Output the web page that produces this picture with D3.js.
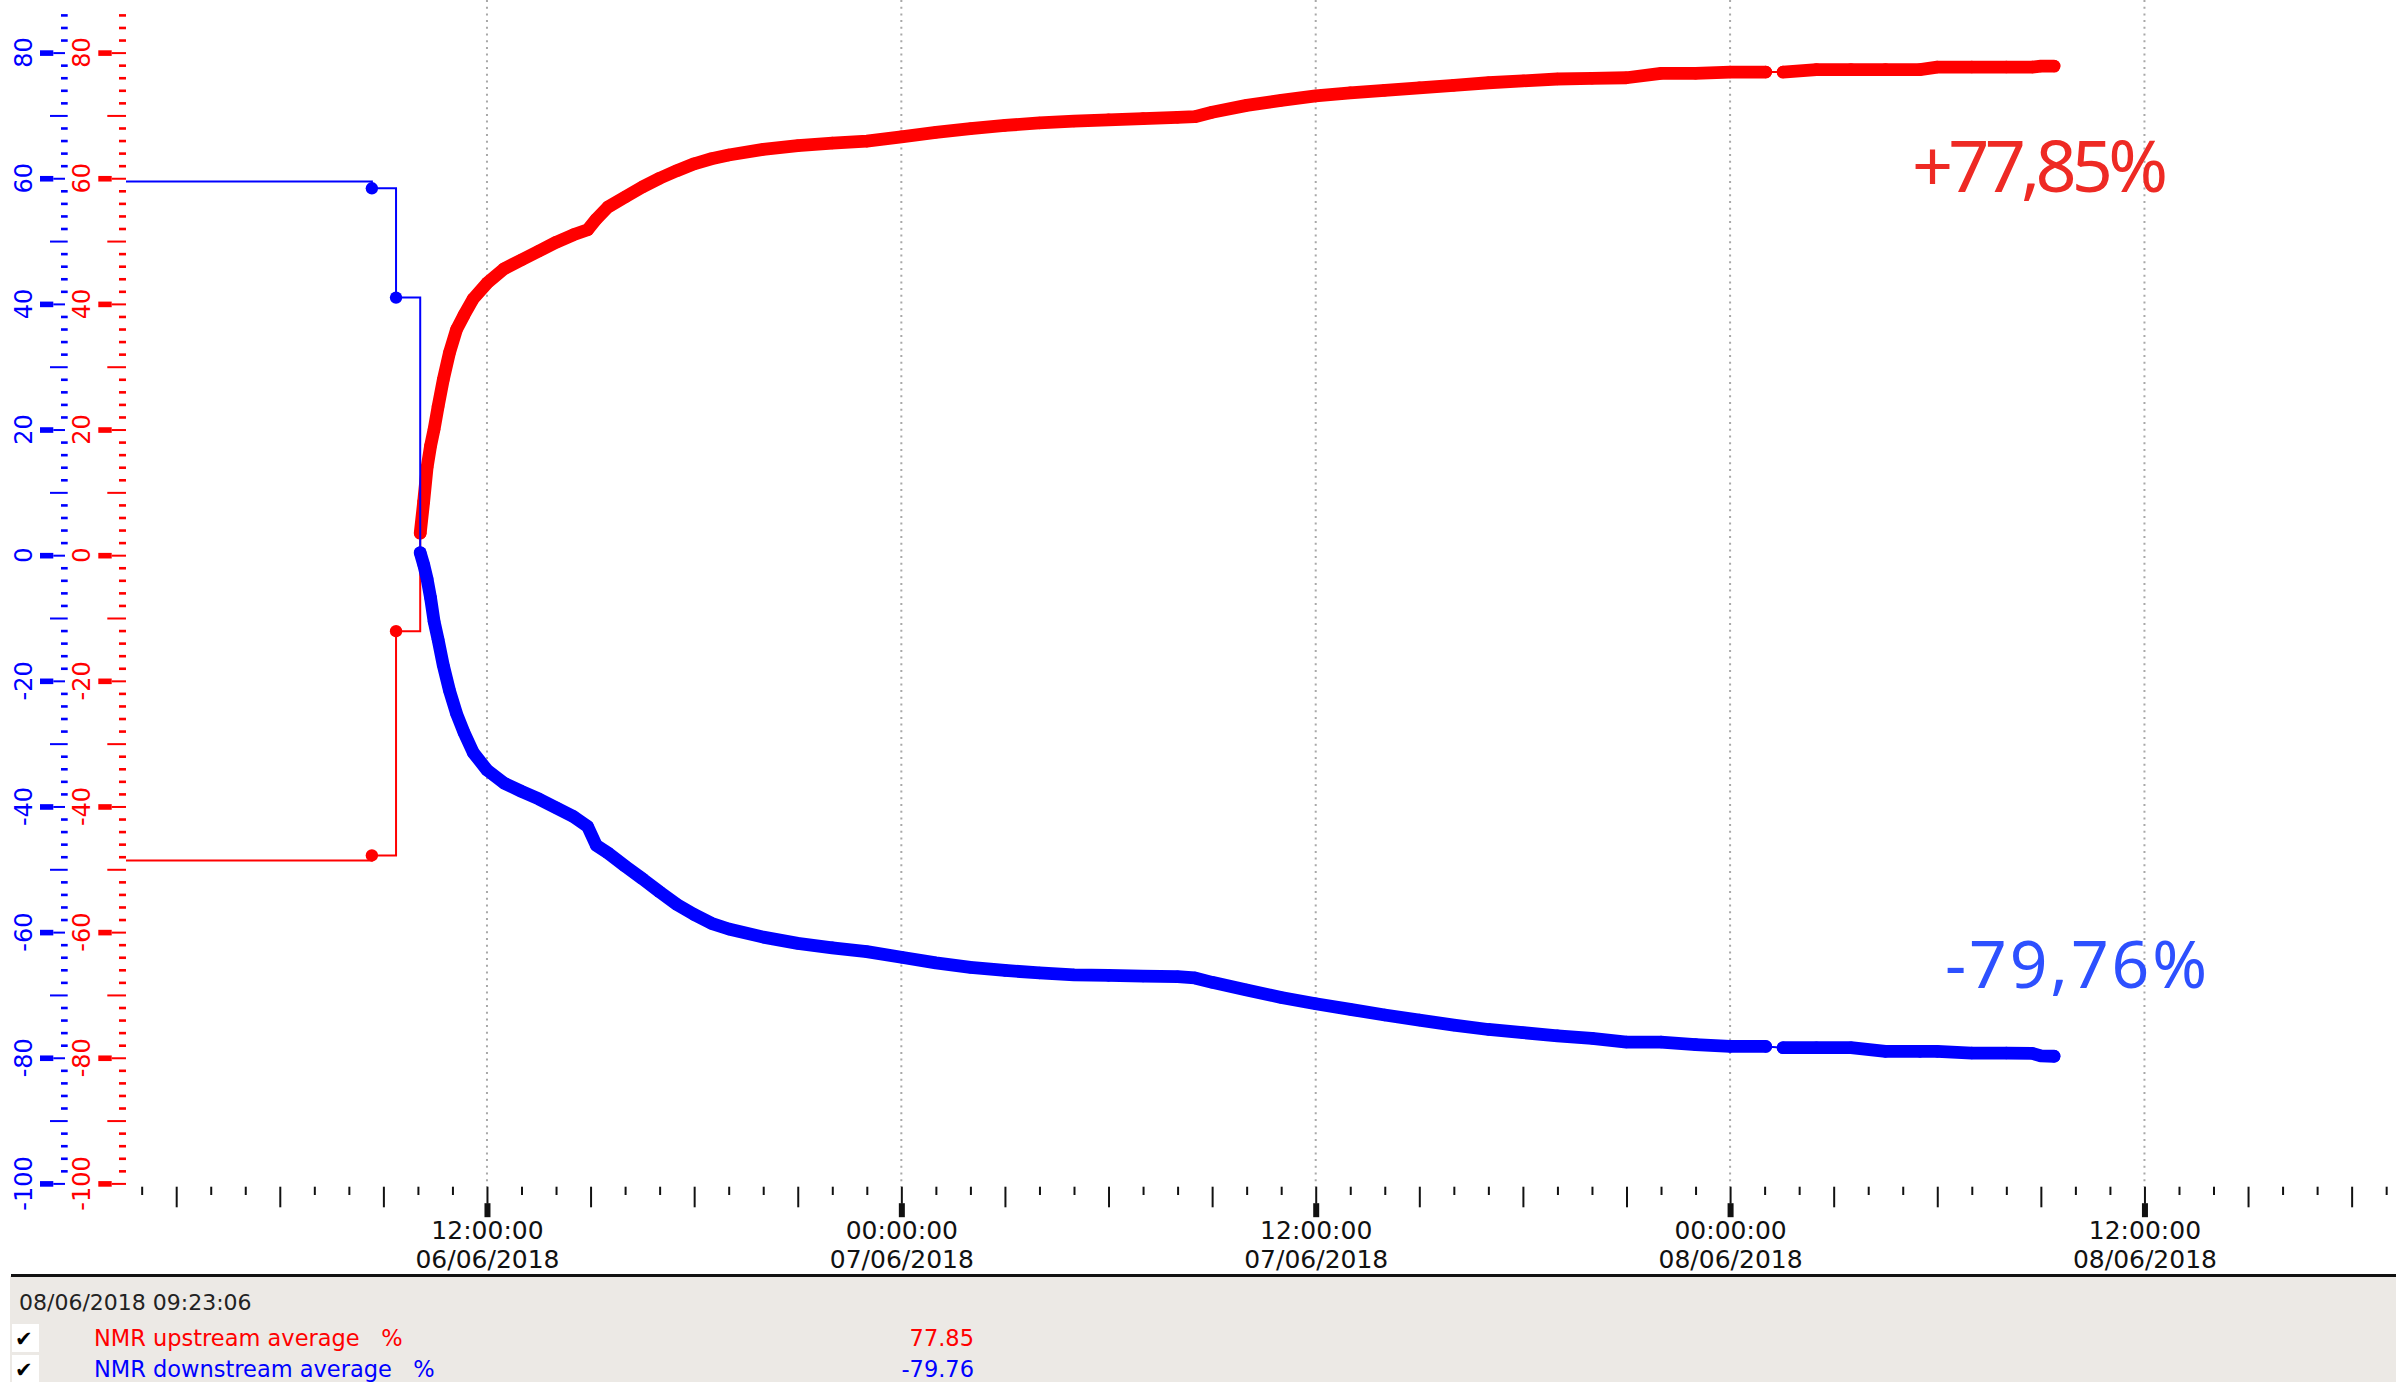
<!DOCTYPE html>
<html><head><meta charset="utf-8">
<script src="https://cdn.jsdelivr.net/npm/d3@7"></script>
<style>
html,body{margin:0;padding:0;background:#fff;}
svg{display:block;}
text{white-space:pre;}
</style></head><body>
<svg id="chart" width="2402" height="1382"></svg>
<script>
// ---------------- DATA ----------------
const times = [
"2018-06-06 01:00","2018-06-06 08:40","2018-06-06 09:22","2018-06-06 10:04","2018-06-06 10:10",
"2018-06-06 10:16","2018-06-06 10:22","2018-06-06 10:28","2018-06-06 10:35","2018-06-06 10:44",
"2018-06-06 10:55","2018-06-06 11:07","2018-06-06 11:20","2018-06-06 11:36","2018-06-06 12:00",
"2018-06-06 12:30","2018-06-06 13:00","2018-06-06 13:30","2018-06-06 14:00","2018-06-06 14:30",
"2018-06-06 14:55","2018-06-06 15:10","2018-06-06 15:30","2018-06-06 16:00","2018-06-06 16:30",
"2018-06-06 17:00","2018-06-06 17:30","2018-06-06 18:00","2018-06-06 18:30","2018-06-06 19:00",
"2018-06-06 20:00","2018-06-06 21:00","2018-06-06 22:00","2018-06-06 23:00","2018-06-07 00:00",
"2018-06-07 01:00","2018-06-07 02:00","2018-06-07 03:00","2018-06-07 04:00","2018-06-07 05:00",
"2018-06-07 06:00","2018-06-07 07:00","2018-06-07 08:00","2018-06-07 08:30","2018-06-07 09:00",
"2018-06-07 10:00","2018-06-07 11:00","2018-06-07 12:00","2018-06-07 13:00","2018-06-07 14:00",
"2018-06-07 15:00","2018-06-07 16:00","2018-06-07 17:00","2018-06-07 18:00","2018-06-07 19:00",
"2018-06-07 20:00","2018-06-07 21:00","2018-06-07 22:00","2018-06-07 23:00","2018-06-08 00:00",
"2018-06-08 01:02","2018-06-08 01:17","2018-06-08 01:32","2018-06-08 02:30","2018-06-08 03:30",
"2018-06-08 04:30","2018-06-08 05:30","2018-06-08 06:00","2018-06-08 07:00","2018-06-08 08:00",
"2018-06-08 08:45","2018-06-08 09:00","2018-06-08 09:23"
];
const upstream = [
-48.6,-47.8,-12.1,3.5,8.5,
14.0,17.4,20.0,23.6,27.9,
32.3,35.9,38.2,40.8,43.3,
45.6,47.0,48.4,49.8,51.0,
51.8,53.5,55.4,57.0,58.6,
60.0,61.2,62.3,63.1,63.7,
64.6,65.2,65.6,65.9,66.6,
67.3,67.9,68.4,68.8,69.1,
69.3,69.5,69.7,69.8,70.5,
71.6,72.4,73.1,73.6,74.0,
74.4,74.8,75.2,75.5,75.8,
75.9,76.0,76.7,76.7,76.9,
76.9,null,76.9,77.3,77.3,
77.3,77.3,77.7,77.7,77.7,
77.7,77.85,77.85
];
const downstream = [
59.5,58.4,41.0,0.4,-1.5,
-3.8,-6.8,-10.5,-13.4,-17.5,
-21.6,-25.2,-28.2,-31.4,-34.2,
-36.3,-37.6,-38.8,-40.2,-41.6,
-43.2,-46.2,-47.4,-49.5,-51.5,
-53.6,-55.6,-57.2,-58.6,-59.5,
-60.8,-61.8,-62.5,-63.1,-64.0,
-64.9,-65.6,-66.1,-66.5,-66.8,
-66.9,-67.0,-67.1,-67.3,-68.0,
-69.2,-70.4,-71.4,-72.3,-73.2,
-74.0,-74.8,-75.5,-76.0,-76.5,
-76.9,-77.5,-77.5,-77.9,-78.2,
-78.2,null,-78.4,-78.4,-78.4,
-79.0,-79.0,-79.0,-79.25,-79.25,
-79.3,-79.7,-79.76
];
const xDomain = ["2018-06-06 01:30","2018-06-08 19:15"];
const denseStart = "2018-06-06 10:04";
const yDomain = [-100, 80];
const yTickValues = d3.range(-100, 87, 2);
const yLabelValues = [-100,-80,-60,-40,-20,0,20,40,60,80];
const legendTimestamp = "08/06/2018 09:23:06";
const seriesNames = ["NMR upstream average   %","NMR downstream average   %"];
const lastValues = ["77.85","-79.76"];
const annotations = ["+77,85%","-79,76%"];

// ---------------- SETUP ----------------
const W = 2402, H = 1382;
const RED = "#ff0000", BLUE = "#0000ff";
const parse = d3.timeParse("%Y-%m-%d %H:%M");
const svg = d3.select("#chart");

const x = d3.scaleTime().domain(xDomain.map(parse)).range([124.4, 2394.8]);
const y = d3.scaleLinear().domain(yDomain).range([1183.4, 52.6]);
const axisTop = 1186.7;

const hourTicks = x.ticks(d3.timeHour.every(1));
const isMajor = d => d.getHours() % 12 === 0;
const isMedium = d => !isMajor(d) && d.getHours() % 3 === 0;

// gridlines
svg.append("g").selectAll("line").data(hourTicks.filter(isMajor)).join("line")
  .attr("x1", d => x(d)).attr("x2", d => x(d))
  .attr("y1", 0).attr("y2", axisTop)
  .attr("stroke", "#a8a8a8").attr("stroke-width", 2).attr("stroke-dasharray", "2,4.7");

// x axis
const xAxisG = svg.append("g").attr("transform", `translate(0,${axisTop})`)
  .call(d3.axisBottom(x).tickValues(hourTicks).tickSize(0).tickFormat(""));
xAxisG.select(".domain").remove();
xAxisG.selectAll(".tick line")
  .attr("stroke", "#111").attr("stroke-width", 2)
  .attr("y2", d => isMajor(d) ? 17 : isMedium(d) ? 20.6 : 8.3);
xAxisG.selectAll(".tick").filter(isMajor).append("rect")
  .attr("x", -3).attr("y", 16.5).attr("width", 6).attr("height", 14).attr("fill", "#111");
const fTime = d3.timeFormat("%H:%M:%S"), fDate = d3.timeFormat("%d/%m/%Y");
const lab = xAxisG.selectAll(".tick").filter(isMajor);
lab.append("text").attr("y", 52.5).attr("text-anchor", "middle")
  .attr("font-family", "DejaVu Sans").attr("font-size", 25).attr("fill", "#111")
  .text(d => fTime(d));
lab.append("text").attr("y", 81).attr("text-anchor", "middle")
  .attr("font-family", "DejaVu Sans").attr("font-size", 25).attr("fill", "#111")
  .text(d => fDate(d));

// y axes
function yAxis(xpos, color, cfg, labelX) {
  const g = svg.append("g").attr("transform", `translate(${xpos},0)`)
    .call(d3.axisLeft(y).tickValues(yTickValues).tickSize(0).tickFormat(""));
  g.select(".domain").remove();
  g.selectAll(".tick line").attr("stroke", color)
    .attr("x1", d => d % 20 === 0 ? -cfg.thin : 0)
    .attr("x2", d => d % 20 === 0 ? -cfg.thick0 : (d % 10 === 0 ? -cfg.medium : -cfg.minor))
    .attr("stroke-width", d => d % 20 === 0 ? 2 : (d % 10 === 0 ? 2 : 2.6));
  g.selectAll(".tick").filter(d => d % 20 === 0).append("rect")
    .attr("x", -cfg.thick1).attr("y", -2.8).attr("width", cfg.thick1 - cfg.thick0).attr("height", 5.6)
    .attr("fill", color);
  svg.append("g").selectAll("text").data(yLabelValues).join("text")
    .attr("transform", d => `translate(${labelX},${y(d)}) rotate(-90)`)
    .attr("text-anchor", "middle").attr("dominant-baseline", "central")
    .attr("font-family", "DejaVu Sans").attr("font-size", 24).attr("fill", color)
    .text(d => String(d));
}
yAxis(67.7, BLUE, {minor: 6.7, medium: 17.7, thin: 2.7, thick0: 14.4, thick1: 27.7}, 24);
yAxis(126, RED, {minor: 7, medium: 18.7, thin: 0, thick0: 14.3, thick1: 27.7}, 82);

// series
svg.append("clipPath").attr("id", "plotclip").append("rect")
  .attr("x", 126).attr("y", 0).attr("width", 2394.8 - 126).attr("height", 1190);
const plot = svg.append("g").attr("clip-path", "url(#plotclip)");
const dStart = parse(denseStart);

function drawSeries(values, color) {
  const pts = times.map((t, i) => ({t: parse(t), v: values[i]}));
  const valid = pts.filter(p => p.v !== null);
  const g = plot.append("g");
  // sparse start: step line
  g.append("path").datum(valid.filter(p => p.t <= dStart))
    .attr("d", d3.line().x(p => x(p.t)).y(p => y(p.v)).curve(d3.curveStepAfter))
    .attr("fill", "none").attr("stroke", color).attr("stroke-width", 2);
  // dense part: thin connecting line (visible across data gaps)
  g.append("path").datum(valid.filter(p => p.t >= dStart))
    .attr("d", d3.line().x(p => x(p.t)).y(p => y(p.v)))
    .attr("fill", "none").attr("stroke", color).attr("stroke-width", 2);
  // dense band of markers
  g.append("path").datum(pts.filter(p => p.t >= dStart))
    .attr("d", d3.line().defined(p => p.v !== null).x(p => x(p.t)).y(p => y(p.v)))
    .attr("fill", "none").attr("stroke", color).attr("stroke-width", 12.8)
    .attr("stroke-linecap", "round").attr("stroke-linejoin", "round");
  g.selectAll("circle").data(valid).join("circle")
    .attr("cx", p => x(p.t)).attr("cy", p => y(p.v)).attr("r", 6.2).attr("fill", color);
}
drawSeries(upstream, RED);
drawSeries(downstream, BLUE);

// handwritten annotations
svg.append("text").attr("x", 1912).attr("y", 192)
  .attr("font-family", "Noto Sans").attr("font-size", 72).attr("fill", "#ee2a24")
  .attr("textLength", 256).attr("lengthAdjust", "spacing").text(annotations[0]);
svg.append("text").attr("x", 1945).attr("y", 988)
  .attr("font-family", "Noto Sans").attr("font-size", 66).attr("fill", "#2d50ff")
  .attr("textLength", 262).attr("lengthAdjust", "spacing").text(annotations[1]);

// legend panel
svg.append("rect").attr("x", 10).attr("y", 1276).attr("width", 2386).attr("height", H - 1276)
  .attr("fill", "#ece9e5");
svg.append("line").attr("x1", 11).attr("x2", 2396).attr("y1", 1275.5).attr("y2", 1275.5)
  .attr("stroke", "#111").attr("stroke-width", 3);
svg.append("text").attr("x", 19).attr("y", 1310)
  .attr("font-family", "DejaVu Sans").attr("font-size", 22).attr("fill", "#222")
  .text(legendTimestamp);
const rowY = [1338, 1369];
const rowColor = [RED, BLUE];
seriesNames.forEach((name, i) => {
  svg.append("rect").attr("x", 12).attr("y", rowY[i] - 14).attr("width", 27).attr("height", 28).attr("fill", "#fff");
  svg.append("text").attr("x", 15).attr("y", rowY[i] + 8)
    .attr("font-family", "DejaVu Sans").attr("font-size", 21).attr("fill", "#000").text("\u2714");
  svg.append("text").attr("x", 94).attr("y", rowY[i] + 8)
    .attr("font-family", "DejaVu Sans").attr("font-size", 22.5).attr("fill", rowColor[i]).text(name);
  svg.append("text").attr("x", 974).attr("y", rowY[i] + 8).attr("text-anchor", "end")
    .attr("font-family", "DejaVu Sans").attr("font-size", 22.5).attr("fill", rowColor[i]).text(lastValues[i]);
});
</script>
</body></html>
